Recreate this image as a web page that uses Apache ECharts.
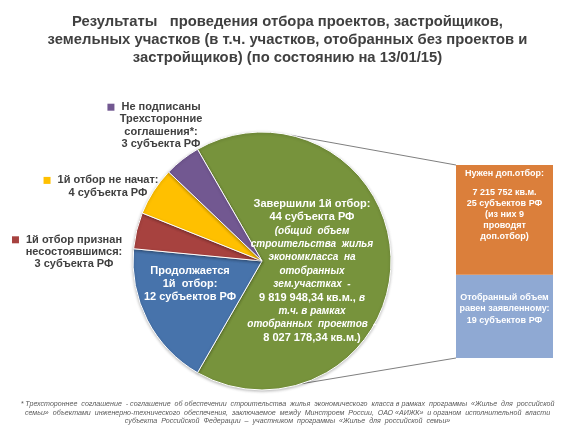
<!DOCTYPE html>
<html><head><meta charset="utf-8">
<script src="https://cdn.jsdelivr.net/npm/echarts@6/dist/echarts.min.js"></script>
<style>html,body{margin:0;padding:0;background:#fff}#c{width:575px;height:431px}</style>
</head><body><div id="c"></div>
<script>
// ---- data ----
const titleLines = [
  'Результаты   проведения отбора проектов, застройщиков,',
  'земельных участков (в т.ч. участков, отобранных без проектов и',
  'застройщиков) (по состоянию на 13/01/15)'
];
const footnoteLines = [
  '* Трехстороннее  соглашение  - соглашение  об обеспечении  строительства  жилья  экономического  класса в рамках  программы  «Жилье  для  российской',
  'семьи»  объектами  инженерно-технического  обеспечения,  заключаемое  между  Минстроем  России,  ОАО «АИЖК»  и органом  исполнительной  власти',
  'субъекта  Российской  Федерации  –  участником  программы  «Жилье  для  российской  семьи»'
];
const pieNames = [
  'Завершили 1й отбор',
  'Продолжается 1й отбор',
  '1й отбор признан несостоявшимся',
  '1й отбор не начат',
  'Не подписаны Трехсторонние соглашения*'
];
const pieValues = [44, 12, 3, 4, 3];
const pieLabels = [
  '{b|Завершили 1й отбор:}\n{b|44 субъекта РФ}\n{i|(общий  объем}\n{i|строительства  жилья}\n{i|экономкласса  на}\n{i|отобранных}\n{i|зем.участках  -}\n{b|9 819 948,34 кв.м.,} {i|в}\n{i|т.ч. в рамках}\n{i|отобранных  проектов  -}\n{b|8 027 178,34 кв.м.)}',
  'Продолжается\n1й  отбор:\n12 субъектов РФ',
  '{sq|}{g|}1й отбор признан{p|}\nнесостоявшимся:\n3 субъекта РФ',
  '{sq|}{g|}1й отбор не начат:{p|}\n4 субъекта РФ',
  '{sq|}{g|}Не подписаны{p|}\nТрехсторонние\nсоглашения*:\n3 субъекта РФ'
];
const barNames = ['Отобранный объем равен заявленному', 'Нужен доп.отбор'];
const barValues = [19, 25];
const barLabels = [
  'Отобранный объем\nравен заявленному:\n19 субъектов РФ',
  '{t|Нужен доп.отбор:}\n{sp| }\n{t|7 215 752 кв.м.}\n{t|25 субъектов РФ}\n{t|(из них 9}\n{t|проводят}\n{t|доп.отбор)}'
];

// ---- style / layout ----
const FONT = "'Liberation Sans', Arial, sans-serif";
const pieColors = ['#77933C', '#4773AB', '#A7423F', '#FFC000', '#725891'];
const barColors = ['#8FA9D3', '#DB7F3B'];
const pieCenter = [262, 261];
const pieRadius = 129;
const labelPos = [[312, 271], [190, 284], [74, 252], [108, 186.5], [161, 125.5]];
const grid = { left: 456, top: 165, width: 97, height: 193 };

const chart = echarts.init(document.getElementById('c'), null, { renderer: 'canvas' });

function outsideRich(color) {
  return {
    sq: { width: 7, height: 7, backgroundColor: color },
    g: { width: 7 },
    p: { width: 14 }
  };
}

const pieData = pieNames.map((n, i) => {
  const inside = i < 2;
  const lbl = {
    formatter: pieLabels[i],
    color: inside ? '#fff' : '#404040',
    fontFamily: FONT,
    fontWeight: 'bold',
    fontSize: 11,
    lineHeight: inside ? 13 : 12.2,
    align: 'center'
  };
  if (i === 0) {
    lbl.rich = {
      b: { color: '#fff', fontFamily: FONT, fontWeight: 'bold', fontSize: 11, lineHeight: 13.4 },
      i: { color: '#fff', fontFamily: FONT, fontWeight: 'bold', fontStyle: 'italic', fontSize: 10, lineHeight: 13.4 }
    };
    lbl.lineHeight = 13.4;
  } else if (!inside) {
    lbl.rich = outsideRich(pieColors[i]);
  }
  return { name: n, value: pieValues[i], itemStyle: { color: pieColors[i] }, label: lbl };
});

const option = {
  animation: false,
  backgroundColor: '#fff',
  title: [
    {
      text: titleLines.join('\n'),
      left: 'center', top: 8,
      textStyle: { fontFamily: FONT, fontWeight: 'bold', fontSize: 14.8, lineHeight: 18, color: '#404040' }
    },
    {
      text: footnoteLines.join('\n'),
      left: 'center', top: 395,
      textStyle: { fontFamily: FONT, fontWeight: 'normal', fontStyle: 'italic', fontSize: 7.1, lineHeight: 8.5, color: '#595959' }
    }
  ],
  grid: grid,
  xAxis: { type: 'category', data: ['bar'], show: false },
  yAxis: { type: 'value', min: 0, max: 44, show: false },
  series: [
    {
      type: 'pie',
      center: pieCenter,
      radius: pieRadius,
      startAngle: 120,
      clockwise: true,
      avoidLabelOverlap: false,
      label: { show: true, position: 'inside' },
      labelLine: { show: false },
      labelLayout: function (p) {
        const pos = labelPos[p.dataIndex];
        return { x: pos[0], y: pos[1], align: 'center', verticalAlign: 'middle' };
      },
      itemStyle: { borderColor: '#ffffff', borderWidth: 1, shadowBlur: 3, shadowColor: 'rgba(0,0,0,0.25)', shadowOffsetY: 1 },
      emphasis: { disabled: true },
      data: pieData
    },
    {
      type: 'bar', stack: 'b', barWidth: '100%', name: barNames[0],
      data: [barValues[0]],
      itemStyle: { color: barColors[0] },
      label: {
        show: true, position: 'insideTop', distance: 17, formatter: barLabels[0],
        color: '#fff', fontFamily: FONT, fontWeight: 'bold', fontSize: 9, lineHeight: 11.5, align: 'center'
      },
      emphasis: { disabled: true }
    },
    {
      type: 'bar', stack: 'b', barWidth: '100%', name: barNames[1],
      data: [barValues[1]],
      itemStyle: { color: barColors[1] },
      label: {
        show: true, position: 'insideTop', distance: 3, formatter: barLabels[1],
        color: '#fff', fontFamily: FONT, fontWeight: 'bold', fontSize: 9, lineHeight: 11, align: 'center',
        rich: {
          t: { color: '#fff', fontFamily: FONT, fontWeight: 'bold', fontSize: 9, lineHeight: 11 },
          sp: { fontSize: 6, lineHeight: 8 }
        }
      },
      emphasis: { disabled: true }
    }
  ]
};
chart.setOption(option);

// connector lines from pie edge to bar corners
const yTop = chart.convertToPixel({ yAxisIndex: 0 }, barValues[0] + barValues[1]);
const yBot = chart.convertToPixel({ yAxisIndex: 0 }, 0);
const xBar = grid.left;
function onCircle(deg) {
  const r = deg * Math.PI / 180;
  return [pieCenter[0] + pieRadius * Math.cos(r), pieCenter[1] - pieRadius * Math.sin(r)];
}
const pTop = onCircle(77);
const pBot = onCircle(-72);
chart.setOption({
  graphic: [
    { type: 'line', z: -1, shape: { x1: pTop[0], y1: pTop[1], x2: xBar, y2: yTop }, style: { stroke: '#7F7F7F', lineWidth: 1 } },
    { type: 'line', z: -1, shape: { x1: pBot[0], y1: pBot[1], x2: xBar, y2: yBot }, style: { stroke: '#7F7F7F', lineWidth: 1 } }
  ]
});
</script>
</body></html>
